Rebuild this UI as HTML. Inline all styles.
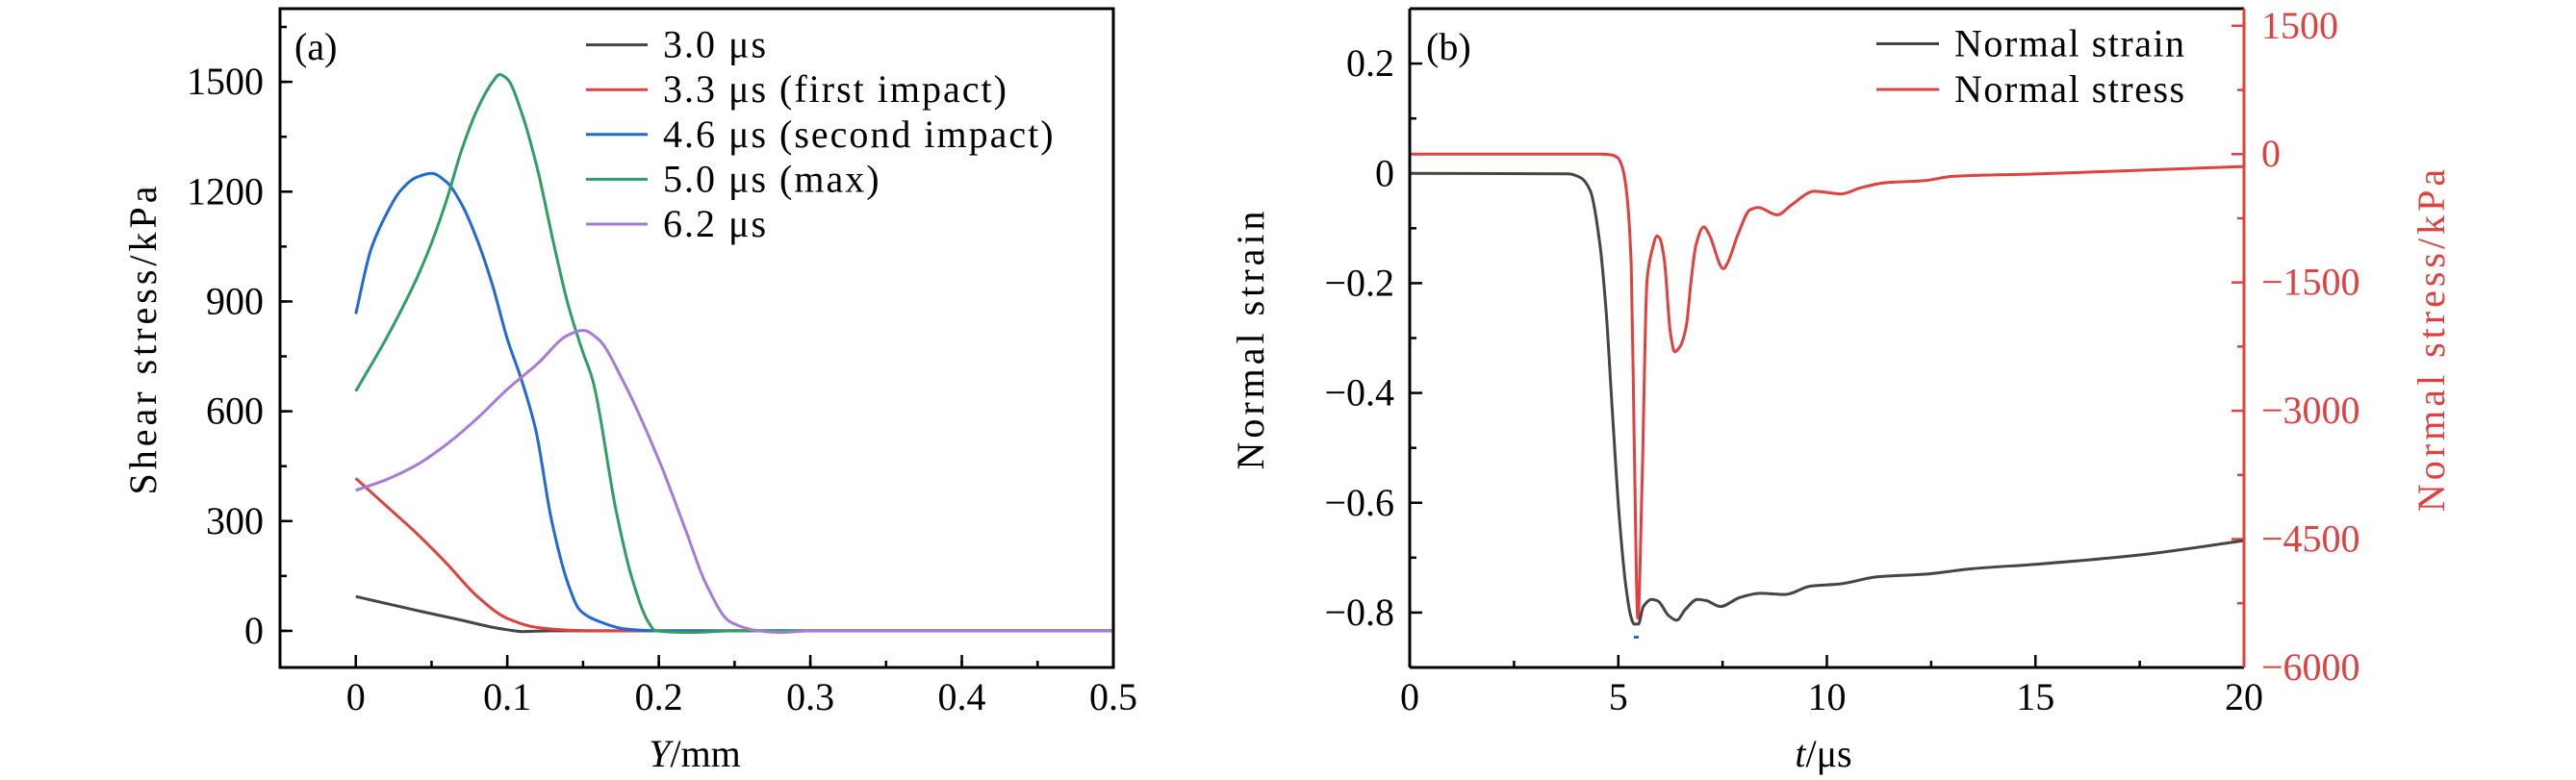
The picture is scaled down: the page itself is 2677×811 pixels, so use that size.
<!DOCTYPE html>
<html><head><meta charset="utf-8">
<style>
html,body{margin:0;padding:0;background:#fff;}
svg{display:block;font-family:"Liberation Serif","DejaVu Serif",serif;}
</style></head>
<body>
<svg id="fig" xmlns="http://www.w3.org/2000/svg" width="2677" height="811" viewBox="0 0 2677 811">
<g id="pa"></g>
<g id="pb"></g>
</svg>
<script>
// ---- Panel (a) data ----
const aTickX = [0, 0.1, 0.2, 0.3, 0.4, 0.5];
const aTickXLabels = ["0", "0.1", "0.2", "0.3", "0.4", "0.5"];
const aTickY = [0, 300, 600, 900, 1200, 1500];
const aTickYLabels = ["0", "300", "600", "900", "1200", "1500"];
const aLegend = ["3.0 μs", "3.3 μs (first impact)", "4.6 μs (second impact)", "5.0 μs (max)", "6.2 μs"];
const aBlackX = [0, 0.02, 0.04, 0.07, 0.09, 0.1, 0.11, 0.13, 0.16, 0.5];
const aBlackY = [94, 75, 56, 29, 10, 3, -2, 0, 0, 0];
const aRedX = [0, 0.02, 0.04, 0.06, 0.08, 0.1, 0.12, 0.14, 0.16, 0.5];
const aRedY = [417, 342, 267, 184, 95, 34, 9, 2, 0, 0];
const aBlueX = [0, 0.01, 0.02, 0.03, 0.04, 0.05, 0.06, 0.07, 0.08, 0.09, 0.1, 0.11, 0.119, 0.129, 0.14, 0.148, 0.161, 0.178, 0.2, 0.5];
const aBlueY = [866, 1042, 1137, 1205, 1239, 1250, 1226, 1165, 1070, 948, 798, 678, 545, 307, 130, 56, 25, 5, 0, 0];
const aGreenX = [0, 0.02, 0.04, 0.05, 0.06, 0.07, 0.08, 0.09, 0.095, 0.1, 0.11, 0.12, 0.13, 0.14, 0.15, 0.156, 0.172, 0.182, 0.193, 0.198, 0.22, 0.25, 0.5];
const aGreenY = [655, 798, 961, 1060, 1178, 1315, 1423, 1498, 1520, 1508, 1409, 1260, 1070, 893, 760, 690, 325, 148, 25, 0, -4, 0, 0];
const aPurpleX = [0, 0.02, 0.04, 0.06, 0.08, 0.1, 0.12, 0.14, 0.15, 0.16, 0.177, 0.201, 0.218, 0.231, 0.247, 0.266, 0.28, 0.3, 0.5];
const aPurpleY = [384, 413, 453, 510, 580, 660, 730, 808, 821, 797, 678, 457, 272, 130, 25, 0, -4, 0, 0];

// ---- Panel (b) data ----
const bTickX = [0, 5, 10, 15, 20];
const bTickXLabels = ["0", "5", "10", "15", "20"];
const bTickYL = [-0.8, -0.6, -0.4, -0.2, 0, 0.2];
const bTickYLLabels = ["−0.8", "−0.6", "−0.4", "−0.2", "0", "0.2"];
const bTickYR = [-6000, -4500, -3000, -1500, 0, 1500];
const bTickYRLabels = ["−6000", "−4500", "−3000", "−1500", "0", "1500"];
const bLegend = ["Normal strain", "Normal stress"];
const strainT = [0, 3.8, 4.1, 4.33, 4.56, 4.71, 4.86, 5.02, 5.17, 5.3, 5.38, 5.48, 5.6, 5.8, 5.95, 6.2, 6.4, 6.6, 6.9, 7.1, 7.45, 7.9, 8.4, 9.0, 9.6, 10.3, 11.2, 12.35, 13.5, 15, 17.5, 20];
const strainV = [0, -0.001, -0.008, -0.032, -0.13, -0.253, -0.437, -0.622, -0.745, -0.807, -0.821, -0.821, -0.789, -0.776, -0.779, -0.805, -0.814, -0.795, -0.776, -0.778, -0.789, -0.773, -0.765, -0.767, -0.752, -0.748, -0.735, -0.73, -0.72, -0.712, -0.695, -0.669];
const stressT = [0, 4.6, 4.85, 5.0, 5.1, 5.2, 5.31, 5.38, 5.47, 5.57, 5.69, 5.8, 5.93, 6.0, 6.1, 6.25, 6.35, 6.48, 6.63, 6.75, 6.86, 7.05, 7.17, 7.52, 7.63, 7.86, 8.16, 8.35, 8.81, 9.16, 9.7, 10.35, 10.8, 11.4, 12.35, 13, 15, 20];
const stressV = [0, 0, -10, -50, -160, -450, -1300, -3300, -5425, -3830, -1460, -1145, -955, -990, -1220, -2090, -2310, -2250, -2010, -1460, -1066, -850, -930, -1340, -1260, -950, -650, -625, -710, -590, -435, -465, -395, -335, -310, -260, -232, -145];

const NS = "http://www.w3.org/2000/svg";
function mk(parent, tag, attrs, text) {
  const e = document.createElementNS(NS, tag);
  for (const k in attrs) e.setAttribute(k, attrs[k]);
  if (text !== undefined) e.textContent = text;
  parent.appendChild(e);
  return e;
}
function lin(d0, d1, r0, r1) { return v => r0 + (v - d0) / (d1 - d0) * (r1 - r0); }
// monotone cubic (Fritsch–Carlson) in pixel space
function smoothPath(xs, ys, sx, sy) {
  const X = xs.map(sx), Y = ys.map(sy), n = X.length;
  const d = [], m = new Array(n);
  for (let i = 0; i < n - 1; i++) d.push((Y[i + 1] - Y[i]) / (X[i + 1] - X[i]));
  m[0] = d[0]; m[n - 1] = d[n - 2];
  for (let i = 1; i < n - 1; i++) {
    if (d[i - 1] * d[i] <= 0) m[i] = 0;
    else {
      const h0 = X[i] - X[i - 1], h1 = X[i + 1] - X[i];
      const w1 = 2 * h1 + h0, w2 = h1 + 2 * h0;
      m[i] = (w1 + w2) / (w1 / d[i - 1] + w2 / d[i]);
    }
  }
  let p = "M" + X[0].toFixed(1) + "," + Y[0].toFixed(1);
  for (let i = 0; i < n - 1; i++) {
    const h = X[i + 1] - X[i];
    p += "C" + (X[i] + h / 3).toFixed(1) + "," + (Y[i] + m[i] * h / 3).toFixed(1) + " " +
      (X[i + 1] - h / 3).toFixed(1) + "," + (Y[i + 1] - m[i + 1] * h / 3).toFixed(1) + " " +
      X[i + 1].toFixed(1) + "," + Y[i + 1].toFixed(1);
  }
  return p;
}
const FS = 40;

// ================= Panel A =================
const A = document.getElementById("pa");
const aL = 291, aR = 1157, aT = 9, aB = 694;
const ax = lin(-0.05, 0.5, aL, aR);
const ay = lin(-100, 1700, aB, aT);

for (let v = -0.05; v <= 0.5001; v += 0.05) {
  const t = mk(A, "line", {x1: ax(v), x2: ax(v), y1: aB, y2: aB - 7, stroke: "#000", "stroke-width": 2.5});
  
  
}
for (let v = -150; v <= 1650; v += 150) {
  if (v < -100) continue;
  const t = mk(A, "line", {x1: aL, x2: aL + 7, y1: ay(v), y2: ay(v), stroke: "#000", "stroke-width": 2.5});
  
  
}
aTickX.forEach((v, i) => {
  const t = mk(A, "line", {x1: ax(v), x2: ax(v), y1: aB, y2: aB - 13, stroke: "#000", "stroke-width": 2.5});
  
  
  const l = mk(A, "text", {x: ax(v), y: 738, "font-size": FS, "text-anchor": "middle"}, aTickXLabels[i]);
  
  
});
aTickY.forEach((v, i) => {
  const t = mk(A, "line", {x1: aL, x2: aL + 13, y1: ay(v), y2: ay(v), stroke: "#000", "stroke-width": 2.5});
  
  
  const l = mk(A, "text", {x: 274, y: ay(v) + 13, "font-size": FS, "text-anchor": "end"}, aTickYLabels[i]);
  
  
});

const aSeries = [
  [aBlackX, aBlackY, "#454545", "series-3-0us"],
  [aRedX, aRedY, "#e0403f", "series-3-3us"],
  [aBlueX, aBlueY, "#1f6ad8", "series-4-6us"],
  [aGreenX, aGreenY, "#2f9e62", "series-5-0us"],
  [aPurpleX, aPurpleY, "#a77ad8", "series-6-2us"]
];
aSeries.forEach((s, i) => {
  const p = mk(A, "path", {d: smoothPath(s[0], s[1], ax, ay), fill: "none", stroke: s[2], "stroke-width": 3, "stroke-linejoin": "round"});
  
  
});
const fa = mk(A, "rect", {x: aL, y: aT, width: aR - aL, height: aB - aT, fill: "none", stroke: "#000", "stroke-width": 3});



aLegend.forEach((txt, i) => {
  const y = 46.6 + i * 46.6;
  const g = mk(A, "g", {});
  
  
  mk(g, "line", {x1: 609, x2: 673, y1: y, y2: y, stroke: aSeries[i][2], "stroke-width": 3});
  mk(g, "text", {x: 689, y: y + 13, "font-size": FS, "letter-spacing": "2"}, txt);
});
const la = mk(A, "text", {x: 306, y: 62, "font-size": FS}, "(a)");


const ayt = mk(A, "text", {transform: "translate(162,352) rotate(-90)", "font-size": FS, "text-anchor": "middle", "letter-spacing": "4"}, "Shear stress/kPa");


const axt = mk(A, "text", {x: 722, y: 797, "font-size": FS, "text-anchor": "middle"});


mk(axt, "tspan", {"font-style": "italic"}, "Y");
mk(axt, "tspan", {}, "/mm");

// ================= Panel B =================
const B = document.getElementById("pb");
const bL = 1465, bR = 2332, bT = 9, bB = 694;
const bx = lin(0, 20, bL, bR);
const byL = lin(-0.9, 0.3, bB, bT);
const byR = lin(-6000, 1700, bB, bT);
const RED = "#e0403f";

for (let v = 2.5; v < 20; v += 5) {
  const t = mk(B, "line", {x1: bx(v), x2: bx(v), y1: bB, y2: bB - 7, stroke: "#000", "stroke-width": 2.5});
  
  
}
for (let v = -0.9; v <= 0.31; v += 0.2) {
  const t = mk(B, "line", {x1: bL, x2: bL + 7, y1: byL(v), y2: byL(v), stroke: "#000", "stroke-width": 2.5});
  
  
}
for (let v = -5250; v <= 1500; v += 1500) {
  const t = mk(B, "line", {x1: bR, x2: bR - 7, y1: byR(v), y2: byR(v), stroke: RED, "stroke-width": 2.5});
  
  
}
bTickX.forEach((v, i) => {
  const t = mk(B, "line", {x1: bx(v), x2: bx(v), y1: bB, y2: bB - 13, stroke: "#000", "stroke-width": 2.5});
  
  
  const l = mk(B, "text", {x: bx(v), y: 738, "font-size": FS, "text-anchor": "middle"}, bTickXLabels[i]);
  
  
});
bTickYL.forEach((v, i) => {
  const t = mk(B, "line", {x1: bL, x2: bL + 13, y1: byL(v), y2: byL(v), stroke: "#000", "stroke-width": 2.5});
  
  
  const l = mk(B, "text", {x: 1449, y: byL(v) + 13, "font-size": FS, "text-anchor": "end"}, bTickYLLabels[i]);
  
  
});
bTickYR.forEach((v, i) => {
  const t = mk(B, "line", {x1: bR, x2: bR - 13, y1: byR(v), y2: byR(v), stroke: RED, "stroke-width": 2.5});
  
  
  const l = mk(B, "text", {x: 2350, y: byR(v) + 13, "font-size": FS, fill: RED}, bTickYRLabels[i]);
  
  
});

const ps = mk(B, "path", {d: smoothPath(stressT, stressV, bx, byR), fill: "none", stroke: RED, "stroke-width": 3, "stroke-linejoin": "round"});


const pst = mk(B, "path", {d: smoothPath(strainT, strainV, bx, byL), fill: "none", stroke: "#454545", "stroke-width": 3, "stroke-linejoin": "round"});


const dot = mk(B, "rect", {x: 1698, y: 661, width: 5, height: 3, fill: "#1f6ad8"});



mk(B, "line", {x1: bL, x2: bR, y1: bT, y2: bT, stroke: "#000", "stroke-width": 3});
mk(B, "line", {x1: bL, x2: bR, y1: bB, y2: bB, stroke: "#000", "stroke-width": 3});
const lax = mk(B, "line", {x1: bL, x2: bL, y1: bT, y2: bB, stroke: "#000", "stroke-width": 3});


const rax = mk(B, "line", {x1: bR, x2: bR, y1: bT, y2: bB, stroke: RED, "stroke-width": 3});



const bCols = ["#454545", RED];
bLegend.forEach((txt, i) => {
  const y = 45.5 + i * 47.5;
  const g = mk(B, "g", {});
  
  
  mk(g, "line", {x1: 1950, x2: 2015, y1: y, y2: y, stroke: bCols[i], "stroke-width": 3});
  mk(g, "text", {x: 2031, y: y + 13, "font-size": FS, "letter-spacing": "1.5"}, txt);
});
const lb = mk(B, "text", {x: 1482, y: 62, "font-size": FS}, "(b)");


const byt = mk(B, "text", {transform: "translate(1313,352) rotate(-90)", "font-size": FS, "text-anchor": "middle", "letter-spacing": "4"}, "Normal strain");


const byrt = mk(B, "text", {transform: "translate(2540,352) rotate(-90)", "font-size": FS, "text-anchor": "middle", fill: RED, "letter-spacing": "4"}, "Normal stress/kPa");


const bxt = mk(B, "text", {x: 1895, y: 797, "font-size": FS, "text-anchor": "middle"});


mk(bxt, "tspan", {"font-style": "italic"}, "t");
mk(bxt, "tspan", {}, "/μs");
</script>
</body></html>
